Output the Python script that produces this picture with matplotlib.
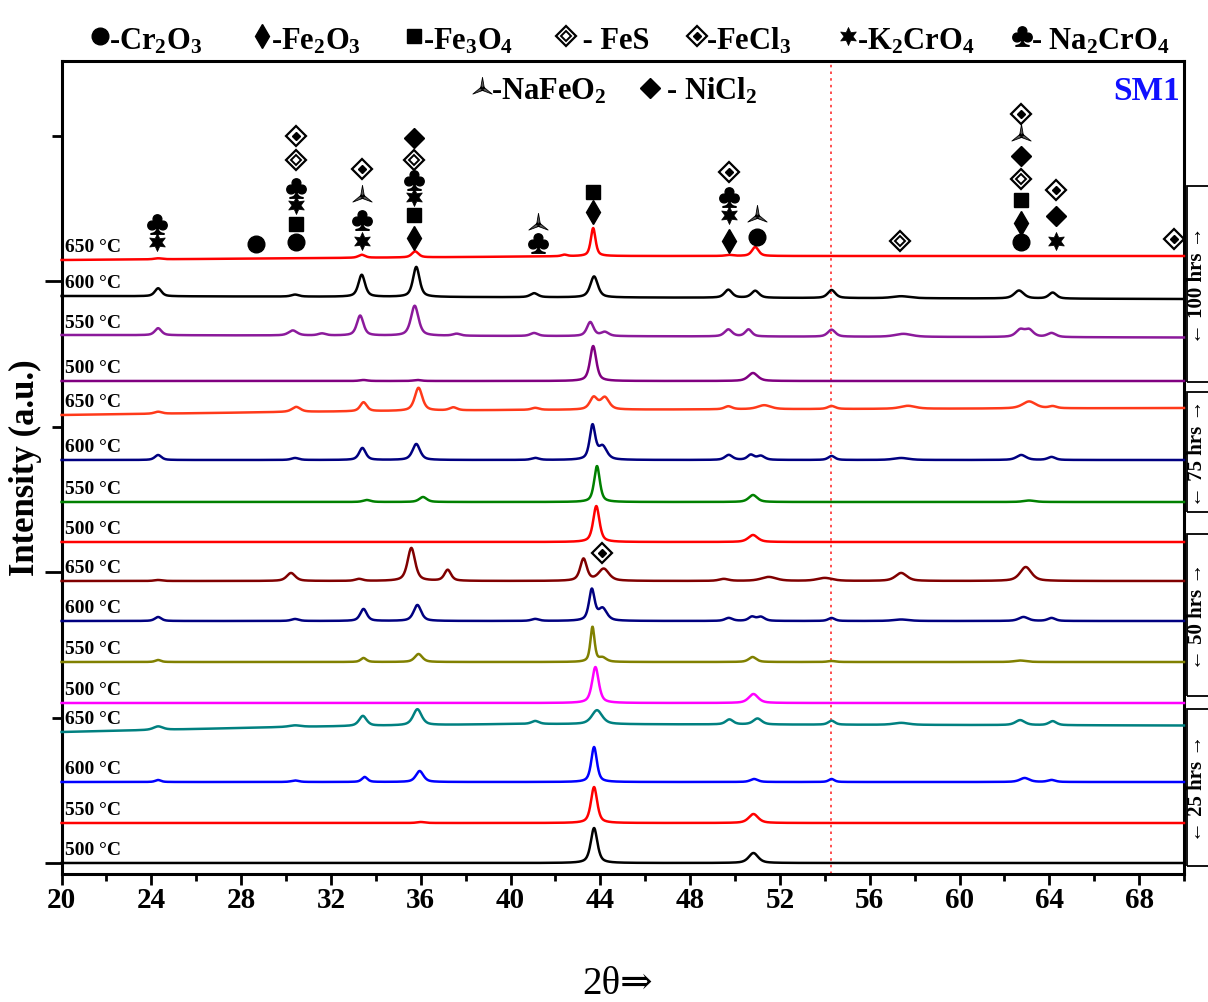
import numpy as np
import matplotlib
matplotlib.use('Agg')
import matplotlib.pyplot as plt
from matplotlib.lines import Line2D
from matplotlib.path import Path
from matplotlib.patches import Rectangle
from matplotlib.ticker import MultipleLocator

plt.rcParams['font.family'] = ['Liberation Serif', 'DejaVu Serif', 'DejaVu Sans']
plt.rcParams['mathtext.fontset'] = 'custom'
plt.rcParams['mathtext.rm'] = 'Liberation Serif:bold'
plt.rcParams['mathtext.it'] = 'Liberation Serif:italic:bold'
plt.rcParams['mathtext.bf'] = 'Liberation Serif:bold'

# ---------------- data (intensity in arbitrary units) ----------------
durations = ['25 hrs'] * 4 + ['50 hrs'] * 4 + ['75 hrs'] * 4 + ['100 hrs'] * 4
temperatures = ['500 °C', '550 °C', '600 °C', '650 °C'] * 4
colors = ['#000000', '#ff0000', '#0000ff', '#008080',
          '#ff00ff', '#808000', '#000080', '#800000',
          '#ff0000', '#008000', '#000080', '#ff3a1a',
          '#800080', '#8b1a9b', '#000000', '#ff0000']

# baseline (2theta, intensity) control points for each pattern (stack offset included)
baselines = [
    [(20, 0), (70, 0)],
    [(20, 40), (70, 40)],
    [(20, 81), (70, 81)],
    [(20, 131), (30, 136), (40, 139), (70, 137.5)],
    [(20, 160), (70, 160)],
    [(20, 201), (70, 201)],
    [(20, 242), (70, 242)],
    [(20, 282), (70, 282)],
    [(20, 321), (70, 321)],
    [(20, 361), (70, 361)],
    [(20, 403), (70, 403)],
    [(20, 448), (30, 451), (40, 453), (70, 455)],
    [(20, 482), (70, 482)],
    [(20, 528), (70, 525.5)],
    [(20, 567), (70, 564)],
    [(20, 603), (32, 605), (44, 607), (70, 607)],
]

# peaks: (2theta, height, fwhm)
peaks = [
    [(43.72, 35, 0.35), (50.82, 10, 0.5)],
    [(36.0, 1, 0.4), (43.72, 36, 0.33), (50.82, 9, 0.5)],
    [(24.3, 2, 0.3), (30.4, 1.5, 0.4), (33.5, 5, 0.3), (35.95, 11, 0.4), (43.72, 35, 0.3),
     (50.85, 3, 0.4), (54.3, 3, 0.3), (62.9, 4, 0.5), (64.1, 2, 0.4)],
    [(24.3, 3.5, 0.5), (30.4, 1.5, 0.6), (33.42, 10, 0.4), (35.85, 16, 0.45), (41.1, 3, 0.4),
     (43.85, 14, 0.55), (49.75, 5, 0.4), (51.0, 6, 0.45), (54.3, 4, 0.35), (57.4, 2, 0.8),
     (62.7, 5, 0.5), (64.15, 4, 0.4)],
    [(43.78, 36, 0.35), (50.82, 9, 0.5)],
    [(24.3, 2, 0.3), (33.45, 4, 0.3), (35.9, 8, 0.4), (43.65, 35, 0.22), (44.1, 4, 0.4),
     (50.78, 5, 0.4), (54.3, 1, 0.4), (62.7, 1.5, 0.6)],
    [(24.3, 4, 0.35), (30.4, 2, 0.4), (33.45, 12, 0.35), (35.85, 16, 0.4), (41.1, 2, 0.4),
     (43.62, 31, 0.3), (44.1, 12, 0.45), (49.72, 3, 0.4), (50.75, 4, 0.35), (51.15, 4, 0.4),
     (54.3, 3, 0.35), (57.4, 1.5, 0.8), (62.85, 4, 0.5), (64.1, 3, 0.4)],
    [(24.3, 1, 0.4), (30.22, 8, 0.45), (33.25, 2, 0.4), (35.58, 33, 0.4), (37.2, 11, 0.35),
     (43.25, 22, 0.35), (44.15, 12, 0.55), (49.5, 2, 0.5), (51.5, 4, 0.8), (54.0, 3, 0.8),
     (57.4, 8, 0.6), (62.95, 14, 0.6)],
    [(43.82, 36, 0.33), (50.8, 7, 0.5)],
    [(33.6, 2, 0.4), (36.1, 5, 0.4), (43.85, 36, 0.3), (50.8, 7, 0.45), (63.1, 1.5, 0.6)],
    [(24.3, 5, 0.35), (30.4, 2, 0.4), (33.4, 12, 0.35), (35.8, 16, 0.4), (41.1, 2, 0.4),
     (43.65, 34, 0.3), (44.1, 13, 0.45), (49.72, 5, 0.4), (50.7, 5, 0.35), (51.15, 4, 0.4),
     (54.3, 4, 0.35), (57.4, 2, 0.8), (62.75, 5, 0.5), (64.1, 3, 0.4)],
    [(24.3, 2, 0.4), (30.45, 5, 0.45), (33.45, 9, 0.35), (35.9, 23, 0.4), (37.45, 3, 0.4),
     (41.1, 2, 0.4), (43.7, 12, 0.4), (44.2, 12, 0.45), (49.7, 3, 0.4), (51.3, 4, 0.7),
     (54.3, 3, 0.4), (57.7, 3, 0.8), (63.1, 7, 0.7), (64.15, 2, 0.4)],
    [(33.45, 1, 0.4), (35.85, 1, 0.4), (43.68, 35, 0.33), (50.8, 8, 0.5)],
    [(24.3, 7, 0.35), (30.3, 5, 0.45), (31.6, 2, 0.4), (33.3, 20, 0.35), (35.73, 30, 0.4),
     (37.6, 2, 0.4), (41.05, 3, 0.4), (43.55, 14, 0.35), (44.2, 4, 0.4), (49.7, 7, 0.4),
     (50.6, 7, 0.35), (54.3, 7, 0.4), (57.5, 3, 0.9), (62.7, 7, 0.45), (63.1, 7, 0.45),
     (64.1, 4, 0.45)],
    [(24.3, 8, 0.35), (30.4, 2, 0.4), (33.37, 22, 0.35), (35.8, 30, 0.35), (41.05, 4, 0.4),
     (43.72, 21, 0.4), (49.7, 8, 0.4), (50.9, 7, 0.4), (54.3, 8, 0.4), (57.4, 2, 0.9),
     (62.65, 8, 0.5), (64.15, 6, 0.4)],
    [(24.3, 1, 0.4), (33.37, 3, 0.35), (35.75, 6, 0.35), (42.4, 1.5, 0.3), (43.68, 28, 0.25),
     (49.75, 1, 0.4), (50.9, 9, 0.35)],
]

# phase identification marks: (phase, 2theta, intensity position)
phase_marks = [
    ('Na2CrO4', 24.24, 639), ('K2CrO4', 24.24, 621),
    ('Cr2O3', 28.67, 619),
    ('FeCl3', 30.43, 727), ('FeS', 30.43, 703), ('Na2CrO4', 30.43, 675), ('K2CrO4', 30.43, 658),
    ('Fe3O4', 30.43, 639), ('Cr2O3', 30.43, 621),
    ('FeCl3', 33.37, 694), ('NaFeO2', 33.37, 667), ('Na2CrO4', 33.37, 643), ('K2CrO4', 33.37, 622),
    ('NiCl2', 35.72, 725), ('FeS', 35.72, 703), ('Na2CrO4', 35.72, 683), ('K2CrO4', 35.72, 666),
    ('Fe3O4', 35.72, 648), ('Fe2O3', 35.72, 625),
    ('NaFeO2', 41.22, 639), ('Na2CrO4', 41.22, 620),
    ('Fe3O4', 43.69, 671), ('Fe2O3', 43.69, 651),
    ('FeCl3', 49.75, 691), ('Na2CrO4', 49.75, 666), ('K2CrO4', 49.75, 648), ('Fe2O3', 49.75, 622),
    ('NaFeO2', 50.96, 647), ('Cr2O3', 50.96, 626),
    ('FeS', 57.36, 622),
    ('FeCl3', 62.76, 749), ('NaFeO2', 62.76, 728), ('NiCl2', 62.76, 707), ('FeS', 62.76, 684),
    ('Fe3O4', 62.76, 663), ('Fe2O3', 62.76, 640), ('Cr2O3', 62.76, 621),
    ('FeCl3', 64.32, 673), ('NiCl2', 64.32, 647), ('K2CrO4', 64.32, 622),
    ('FeCl3', 69.55, 624),
    ('FeCl3', 44.09, 310),
]

legend_top = [('Cr2O3', '-Cr$_2$O$_3$'), ('Fe2O3', '-Fe$_2$O$_3$'), ('Fe3O4', '-Fe$_3$O$_4$'),
              ('FeS', ' - FeS'), ('FeCl3', '-FeCl$_3$'), ('K2CrO4', '-K$_2$CrO$_4$'),
              ('Na2CrO4', '- Na$_2$CrO$_4$')]
legend_inner = [('NaFeO2', '-NaFeO$_2$'), ('NiCl2', ' - NiCl$_2$')]
group_labels = ['← 100 hrs →', '← 75 hrs →', '← 50 hrs →', '← 25 hrs →']
reference_line = 54.29
x_ticks = list(range(20, 70, 4))

# ---------------- marker shapes ----------------
def blade_path():
    verts, codes = [], []
    for a in (90, 210, 330):
        r = np.deg2rad(a)
        tip = (np.cos(r), np.sin(r))
        p1 = (0.17 * np.cos(r + np.pi / 2), 0.17 * np.sin(r + np.pi / 2))
        p2 = (0.17 * np.cos(r - np.pi / 2), 0.17 * np.sin(r - np.pi / 2))
        verts += [p1, tip, p2, p1]
        codes += [Path.MOVETO, Path.LINETO, Path.LINETO, Path.CLOSEPOLY]
    return Path(verts, codes)

star6 = Path.unit_regular_star(6, 0.5)
STYLE = {
    'Cr2O3': [dict(marker='o', ms=12, mfc='k', mec='k')],
    'Fe2O3': [dict(marker='d', ms=12, mfc='k', mec='k')],
    'Fe3O4': [dict(marker='s', ms=10.5, mfc='k', mec='k')],
    'FeS': [dict(marker='D', ms=10, mfc='w', mec='k', mew=1.6),
            dict(marker='D', ms=5, mfc='w', mec='k', mew=1.4)],
    'FeCl3': [dict(marker='D', ms=10, mfc='w', mec='k', mew=1.6),
              dict(marker='D', ms=4, mfc='k', mec='k', mew=1.0)],
    'K2CrO4': [dict(marker=star6, ms=13, mfc='k', mec='k', mew=0.5)],
    'Na2CrO4': [dict(marker=r'$\clubsuit$', ms=14, mfc='k', mec='k')],
    'NaFeO2': [dict(marker=blade_path(), ms=16, mfc='#555555', mec='k', mew=0.6)],
    'NiCl2': [dict(marker='D', ms=10.5, mfc='k', mec='k')],
}

def mark(adder, x, y, phase, transform):
    for st in STYLE[phase]:
        adder(Line2D([x], [y], ls='none', transform=transform, zorder=6, **st))

# ---------------- figure ----------------
W, H = 1208, 1003
fig = plt.figure(figsize=(W / 100, H / 100), dpi=100)
ax_l, ax_r, ax_t, ax_b = 61.6, 1184, 62, 875
ax = fig.add_axes([ax_l / W, 1 - ax_b / H, (ax_r - ax_l) / W, (ax_b - ax_t) / H])

two_theta = np.arange(20.0, 70.0001, 0.02)
eta = 0.6
for base, pk, col, temp in zip(baselines, peaks, colors, temperatures):
    bx, by = zip(*base)
    y = np.interp(two_theta, bx, by)
    for x0, h, w in pk:
        d = (two_theta - x0) / (w / 2)
        y = y + h * (eta / (1 + d ** 2) + (1 - eta) * np.exp(-np.log(2) * d ** 2))
    ax.plot(two_theta, y, color=col, lw=1.8, zorder=3, clip_on=False)
    ax.text(20.15, by[0] + 13, temp, fontsize=14, fontweight='bold', va='center', ha='left',
            zorder=4)

for phase, x, y in phase_marks:
    mark(ax.add_line, x, y, phase, ax.transData)

ax.axvline(reference_line, color='#ff3030', ls=(0, (1.5, 2.5)), lw=1.2, zorder=2)

ax.set_xlim(20, 70)
ax.set_ylim(-11, 802)
ax.set_xticks(x_ticks)
ax.xaxis.set_minor_locator(MultipleLocator(2))
ax.yaxis.set_major_locator(MultipleLocator(290.8))
ax.yaxis.set_minor_locator(MultipleLocator(145.4))
ax.set_yticklabels([])
ax.tick_params(axis='x', which='major', direction='out', length=8, width=2, labelsize=21, pad=1)
ax.tick_params(axis='x', which='minor', direction='out', length=5, width=2)
ax.tick_params(axis='y', which='major', direction='out', length=12, width=2)
ax.tick_params(axis='y', which='minor', direction='out', length=7, width=2)
for lab in ax.get_xticklabels():
    lab.set_fontweight('bold')
for sp in ax.spines.values():
    sp.set_linewidth(2.2)

# axis titles
fig.text(25 / W, 1 - 468 / H, 'Intensity (a.u.)', rotation=90, fontsize=25, fontweight='bold',
         ha='center', va='center')
fig.text(618 / W, 1 - 985 / H, '2θ⇒', fontsize=28, ha='center', va='center')

# top legend
top_pos = [100, 262, 414, 566, 697, 848, 1022]
for (phase, txt), px in zip(legend_top, top_pos):
    mark(fig.add_artist, px / W, 1 - 37 / H, phase, fig.transFigure)
    fig.text((px + 9) / W, 1 - 49 / H, txt, fontsize=22, fontweight='bold', ha='left',
             va='baseline')

inner_pos = [482, 650]
for (phase, txt), px in zip(legend_inner, inner_pos):
    mark(fig.add_artist, px / W, 1 - 89 / H, phase, fig.transFigure)
    fig.text((px + 9) / W, 1 - 100 / H, txt, fontsize=22, fontweight='bold', ha='left',
             va='baseline')

fig.text(1180 / W, 1 - 100 / H, 'SM1', fontsize=24, fontweight='bold', color='#1010ff',
         ha='right', va='baseline')

# right-hand duration boxes
boxes = [(187, 383), (393, 513), (535, 697), (710, 867)]
for (top, bot), lab in zip(boxes, group_labels):
    fig.add_artist(Rectangle((1187 / W, 1 - bot / H), 60 / W, (bot - top) / H,
                             transform=fig.transFigure, fill=False, ec='k', lw=1.3))
    fig.text(1197.5 / W, 1 - (top + bot) / 2 / H, lab, rotation=90, fontsize=15,
             fontweight='bold', ha='center', va='center')

fig.savefig('out.png', dpi=100)
